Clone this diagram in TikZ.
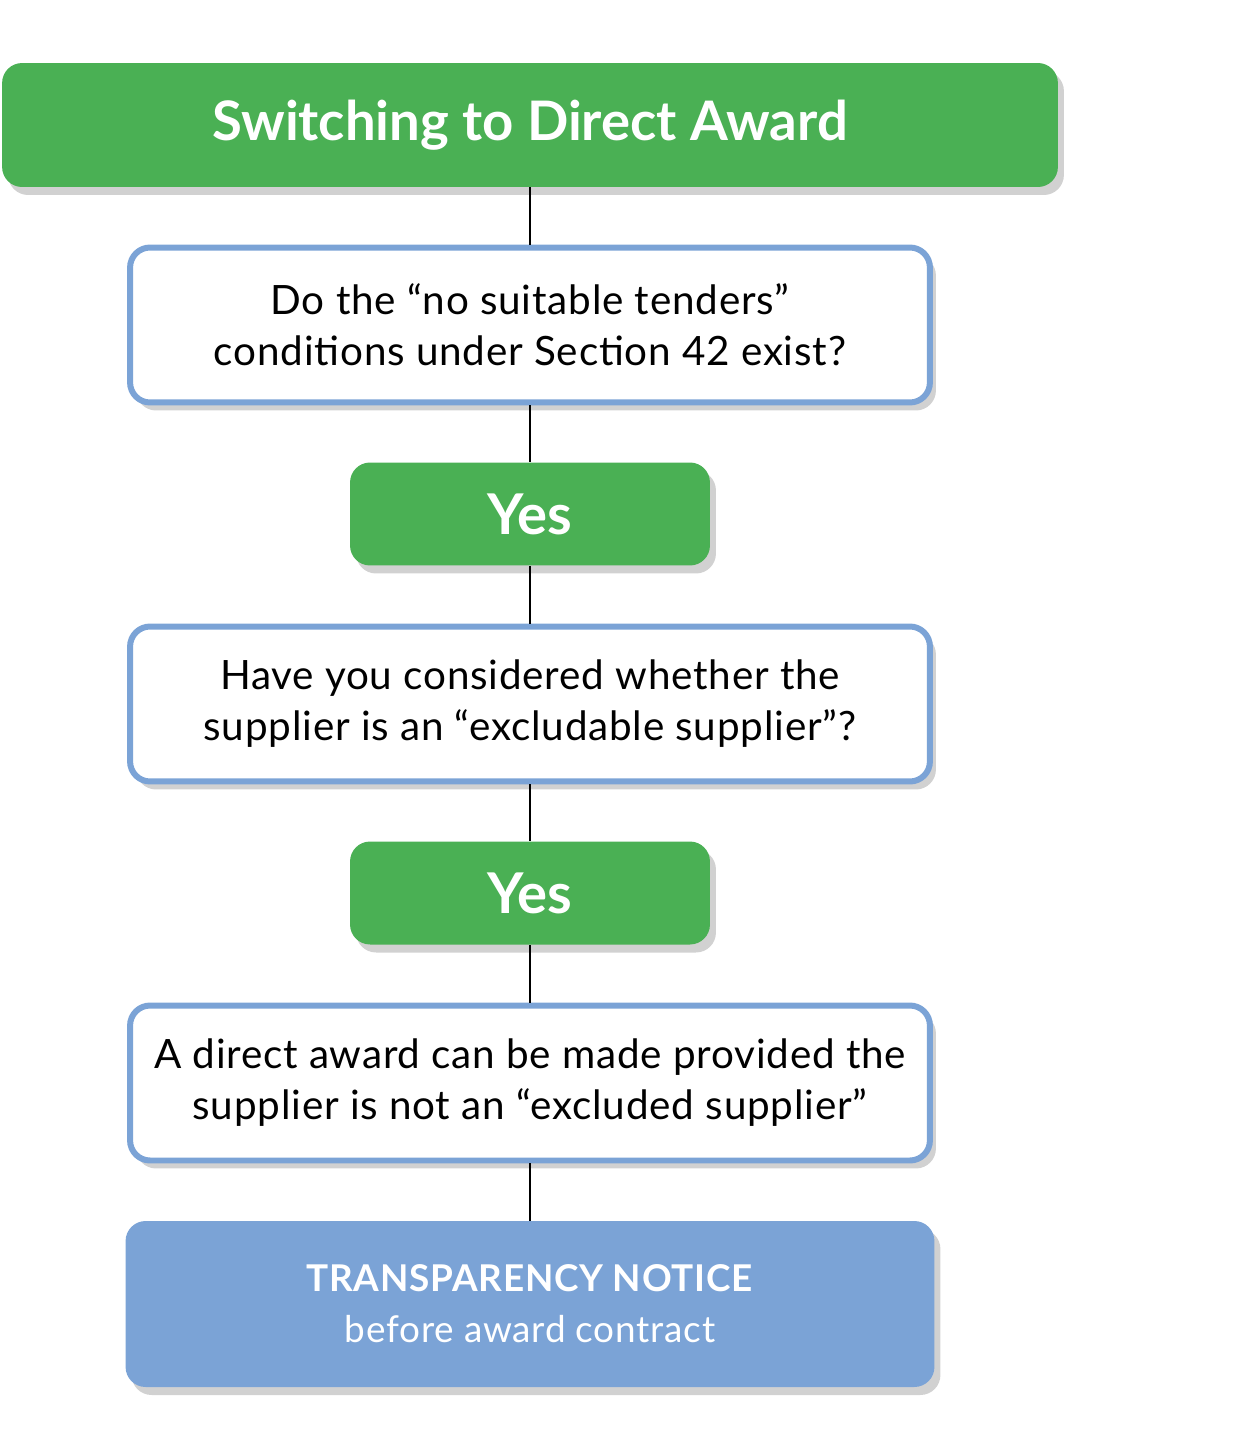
\documentclass[tikz,border=0pt]{standalone}
\usepackage{fontspec}
\setmainfont{Lato}
\usetikzlibrary{positioning, shadows}
\definecolor{awardgreen}{HTML}{4AB054}
\definecolor{awardblue}{HTML}{7BA3D6}
\tikzset{
    shade box/.style={drop shadow={shadow xshift=0.12cm, shadow yshift=-0.16cm, opacity=0.18, fill=black}},
    greenbox/.style={shade box, fill=awardgreen, rounded corners=0.4cm, text=white, align=center, inner sep=0pt},
    askbox/.style={shade box, fill=white, draw=awardblue, line width=0.12cm, rounded corners=0.4cm, align=center, inner sep=0pt,
        minimum width=16cm, minimum height=3.1cm, font=\fontsize{23}{29}\selectfont\addfontfeature{LetterSpace=2}},
    link/.style={draw=black, line width=0.6pt}
}
\begin{document}
\begin{tikzpicture}[x=0.02cm, y=-0.02cm]
    \useasboundingbox (0,0) rectangle (1246,1450);

    \node[greenbox, minimum width=21.12cm, minimum height=2.48cm, font=\fontsize{31}{36}\selectfont\bfseries]
        (title) at (530,125) {Switching to Direct Award};
    \node[askbox] (ask1) at (530,325) {Do the “no suitable tenders”\\conditions under Section 42 exist?};
    \node[greenbox, minimum width=7.2cm, minimum height=2.06cm, font=\fontsize{32}{36}\selectfont\bfseries]
        (yes1) at (530,514) {Yes};
    \node[askbox] (ask2) at (530,704) {Have you considered whether the\\supplier is an “excludable supplier”?};
    \node[greenbox, minimum width=7.2cm, minimum height=2.06cm, font=\fontsize{32}{36}\selectfont\bfseries]
        (yes2) at (530,893) {Yes};
    \node[askbox] (ask3) at (530,1083) {A direct award can be made provided the\\supplier is not an “excluded supplier”};
    \node[shade box, fill=awardblue, rounded corners=0.4cm, text=white, align=center, inner sep=0pt,
        minimum width=16.18cm, minimum height=3.32cm, font=\fontsize{21}{29}\selectfont\addfontfeature{LetterSpace=2}]
        (notice) at (530,1304) {\textbf{TRANSPARENCY NOTICE}\\before award contract};

    % connectors
    \path[link] (title) -- (ask1);
    \path[link] (ask1) -- (yes1);
    \path[link] (yes1) -- (ask2);
    \path[link] (ask2) -- (yes2);
    \path[link] (yes2) -- (ask3);
    \path[link] (ask3) -- (notice);
\end{tikzpicture}
\end{document}
